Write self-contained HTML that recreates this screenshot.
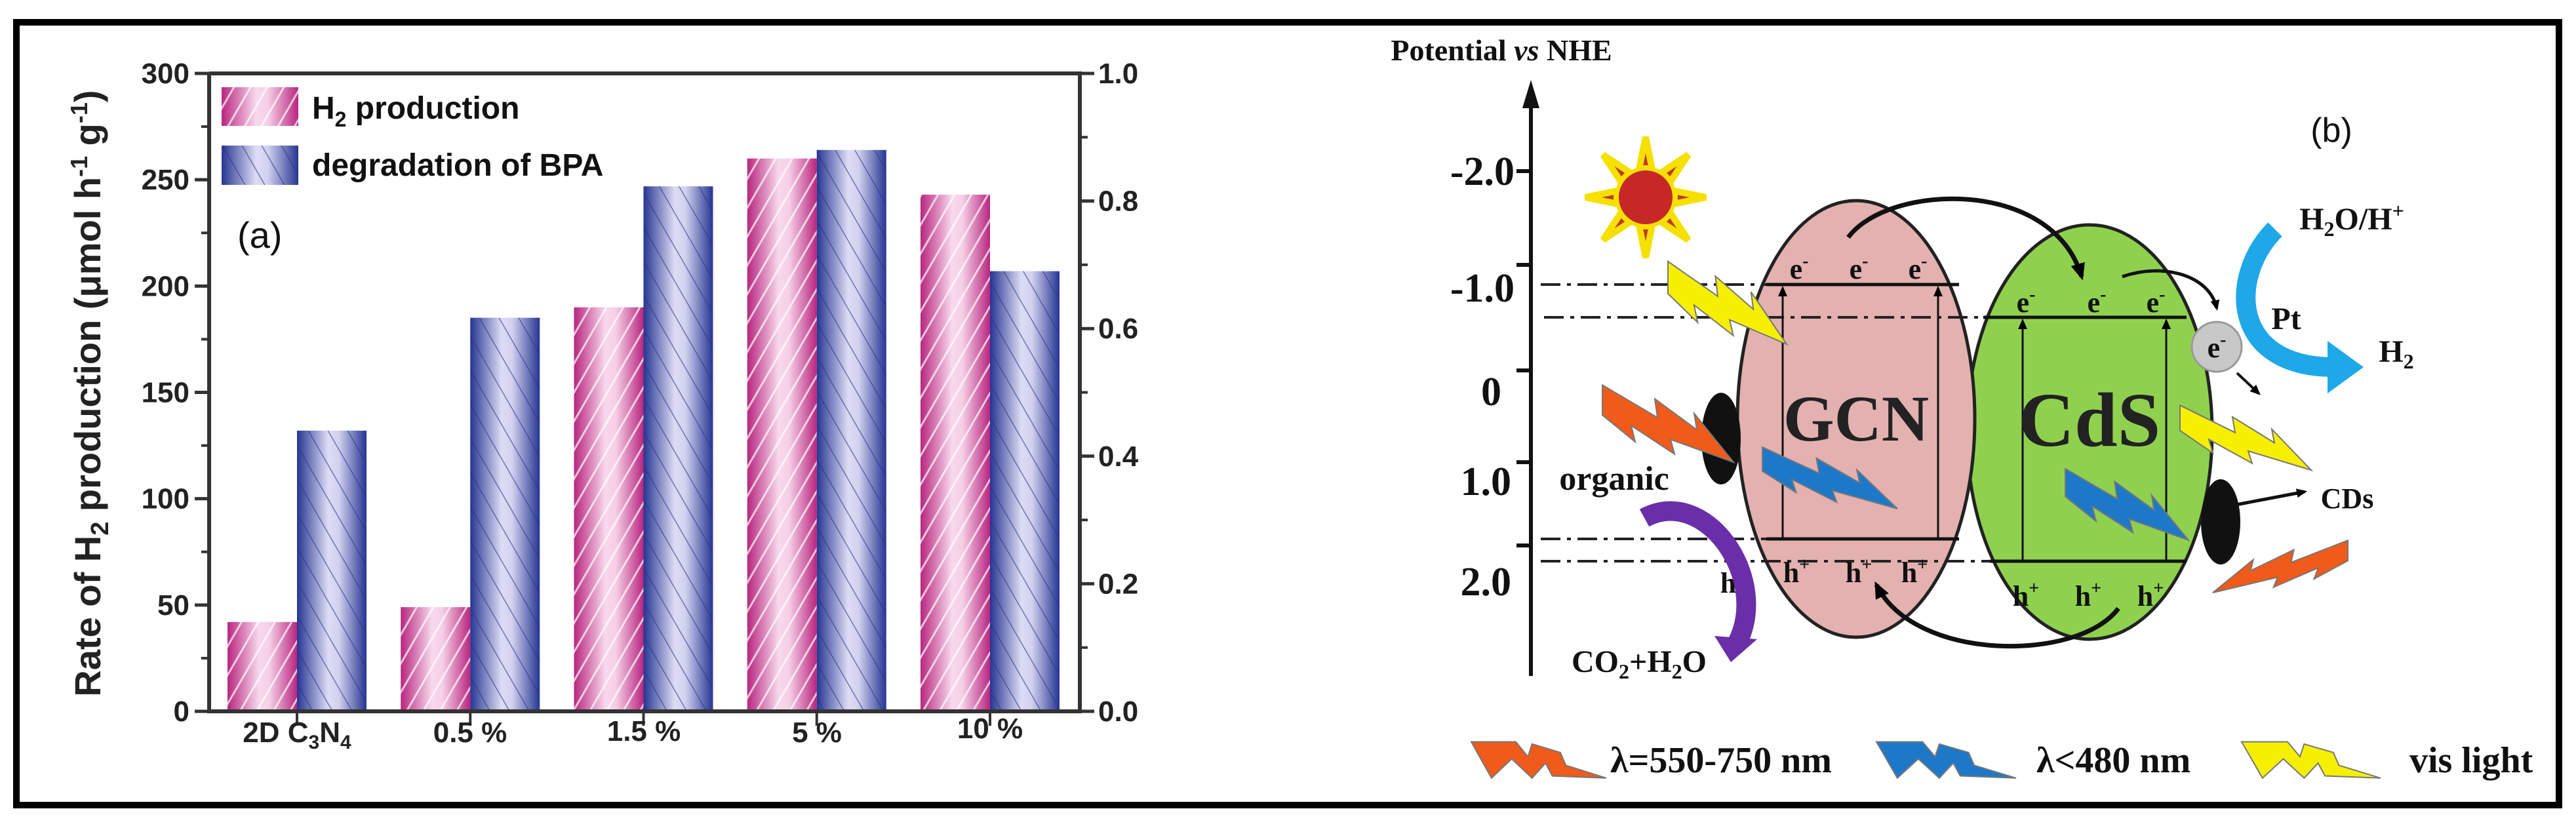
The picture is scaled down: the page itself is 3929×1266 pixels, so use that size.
<!DOCTYPE html>
<html><head><meta charset="utf-8"><style>
html,body{margin:0;padding:0;background:#fff}
svg{display:block}
.sans{font-family:"Liberation Sans",Arial,sans-serif;font-weight:bold}
.serif{font-family:"Liberation Serif","Times New Roman",serif;font-weight:bold}
</style></head><body>
<svg id="root" width="3929" height="1266" viewBox="0 0 3929 1266" xmlns="http://www.w3.org/2000/svg">
<defs>
<linearGradient id="gPink" x1="0" x2="1" y1="0" y2="0">
<stop offset="0" stop-color="#b8267f"/><stop offset="0.45" stop-color="#f8d8ec"/><stop offset="0.6" stop-color="#f6cfe6"/><stop offset="1" stop-color="#b8267f"/></linearGradient>
<linearGradient id="gBlue" x1="0" x2="1" y1="0" y2="0">
<stop offset="0" stop-color="#263592"/><stop offset="0.45" stop-color="#dcdcf4"/><stop offset="0.6" stop-color="#d2d2f0"/><stop offset="1" stop-color="#263592"/></linearGradient>
<pattern id="hPink" width="22" height="22" patternUnits="userSpaceOnUse" patternTransform="rotate(30)">
<rect width="22" height="22" fill="none"/><line x1="0" y1="0" x2="0" y2="22" stroke="#ffffff" stroke-width="6" opacity="0.7"/></pattern>
<pattern id="hBlue" width="26" height="26" patternUnits="userSpaceOnUse" patternTransform="rotate(-30)">
<line x1="0" y1="0" x2="0" y2="26" stroke="#2a2f80" stroke-width="3" opacity="0.6"/></pattern>
<marker id="ah" markerWidth="26" markerHeight="22" refX="20" refY="11" orient="auto" markerUnits="userSpaceOnUse"><path d="M0,0 L26,11 L0,22 z" fill="#000"/></marker>
<marker id="ahs" markerWidth="16" markerHeight="14" refX="12" refY="7" orient="auto" markerUnits="userSpaceOnUse"><path d="M0,0 L16,7 L0,14 z" fill="#000"/></marker>
</defs>
<rect x="25" y="34" width="3878" height="1194" fill="none" stroke="#000" stroke-width="10"/>
<g id="chart"></g>
<g id="diagram"></g>
</svg>
<script>
const categories = ["2D C3N4", "0.5 %", "1.5 %", "5 %", "10 %"];
const h2Values = [42, 49, 190, 260, 243];
const bpaValues = [0.44, 0.617, 0.823, 0.88, 0.69];
const leftTicks = [0, 50, 100, 150, 200, 250, 300];
const rightTicks = [0.0, 0.2, 0.4, 0.6, 0.8, 1.0];

const NS = "http://www.w3.org/2000/svg";
function mk(parent, tag, attrs, text) {
  const e = document.createElementNS(NS, tag);
  for (const k in attrs) e.setAttribute(k, attrs[k]);
  if (text !== undefined) e.textContent = text;
  parent.appendChild(e);
  return e;
}
const chart = document.getElementById("chart");
const X0 = 319, X1 = 1647, YT = 112, YB = 1085;
const yL = v => YB - v / 300 * (YB - YT);
const yR = v => YB - v / 1.0 * (YB - YT);
const xC = i => 453 + i * 264.25;
const BW = 106;

categories.forEach((c, i) => {
  const t = xC(i);
  let r = mk(chart, "rect", {x: t - BW, y: yL(h2Values[i]), width: BW, height: YB - yL(h2Values[i]), fill: "url(#gPink)"});
  
  
  let h = mk(chart, "rect", {x: t - BW, y: yL(h2Values[i]), width: BW, height: YB - yL(h2Values[i]), fill: "url(#hPink)"});
  
  
  let b = mk(chart, "rect", {x: t, y: yR(bpaValues[i]), width: BW, height: YB - yR(bpaValues[i]), fill: "url(#gBlue)"});
  
  
  let bh = mk(chart, "rect", {x: t, y: yR(bpaValues[i]), width: BW, height: YB - yR(bpaValues[i]), fill: "url(#hBlue)"});
  
  
  let tk = mk(chart, "line", {x1: t, y1: YB, x2: t, y2: YB + 22, stroke: "#333", "stroke-width": 4});
  
  
});
const ax = mk(chart, "path", {d: `M${X0},${YT} L${X0},${YB} L${X1},${YB} L${X1},${YT} L${X0},${YT}`, fill: "none", stroke: "#333", "stroke-width": 6});


leftTicks.forEach((v, i) => {
  let l = mk(chart, "line", {x1: X0 - 22, y1: yL(v), x2: X0, y2: yL(v), stroke: "#333", "stroke-width": 5});
  
  
  if (i < leftTicks.length - 1) {
    let m = mk(chart, "line", {x1: X0 - 12, y1: yL(v + 25), x2: X0, y2: yL(v + 25), stroke: "#333", "stroke-width": 4});
    
    
  }
  let t = mk(chart, "text", {x: X0 - 30, y: yL(v) + 15, "text-anchor": "end", "font-size": 44, class: "sans", fill: "#222"}, String(v));
  
  
});
rightTicks.forEach((v, i) => {
  let l = mk(chart, "line", {x1: X1, y1: yR(v), x2: X1 + 22, y2: yR(v), stroke: "#333", "stroke-width": 5});
  
  
  if (i < rightTicks.length - 1) {
    let m = mk(chart, "line", {x1: X1, y1: yR(v + 0.1), x2: X1 + 12, y2: yR(v + 0.1), stroke: "#333", "stroke-width": 4});
    
    
  }
  let t = mk(chart, "text", {x: X1 + 28, y: yR(v) + 15, "font-size": 44, class: "sans", fill: "#222"}, v.toFixed(1));
  
  
});
</script>
<script>
(function(){
const chart = document.getElementById("chart");
chart.insertAdjacentHTML("beforeend", `
<text x="153" y="600" transform="rotate(-90 153 600)" text-anchor="middle" font-size="56" class="sans" fill="#222">Rate of H<tspan font-size="38" dy="12">2</tspan><tspan dy="-12"> production (μmol h</tspan><tspan font-size="36" dy="-20">-1</tspan><tspan dy="20"> g</tspan><tspan font-size="36" dy="-20">-1</tspan><tspan dy="20">)</tspan></text>
<text x="453" y="1132" text-anchor="middle" font-size="44" class="sans" fill="#222">2D C<tspan font-size="30" dy="10">3</tspan><tspan dy="-10">N</tspan><tspan font-size="30" dy="10">4</tspan></text>
<text x="717" y="1132" text-anchor="middle" font-size="44" class="sans" fill="#222">0.5 %</text>
<text x="982" y="1130" text-anchor="middle" font-size="44" class="sans" fill="#222">1.5 %</text>
<text x="1246" y="1132" text-anchor="middle" font-size="44" class="sans" fill="#222">5 %</text>
<text x="1510" y="1126" text-anchor="middle" font-size="44" class="sans" fill="#222">10 %</text>
<g>
<rect x="338" y="133" width="117" height="59" fill="url(#gPink)"/>
<rect x="338" y="133" width="117" height="59" fill="url(#hPink)"/>
<text x="476" y="181" font-size="48" class="sans" fill="#111">H<tspan font-size="32" dy="12">2</tspan><tspan dy="-12"> production</tspan></text>
<rect x="338" y="222" width="117" height="60" fill="url(#gBlue)"/>
<rect x="338" y="222" width="117" height="60" fill="url(#hBlue)"/>
<text x="476" y="268" font-size="48" class="sans" fill="#111">degradation of BPA</text>
</g>
<text x="362" y="378" font-family="Liberation Sans, sans-serif" font-size="56" fill="#111">(a)</text>
`);
})();
</script>
<script>
(function(){
const d = document.getElementById("diagram");
function bolt(x, y, w, h, flip, color, name) {
  const pts = [[0,0.05],[0.42,0.45],[0.4,0.22],[0.72,0.6],[0.7,0.4],[1,1],[0.52,0.72],[0.55,0.9],[0.22,0.55],[0.25,0.75],[0,0.42]];
  const p = pts.map(q => ((flip ? 1 - q[0] : q[0])*w).toFixed(1)+","+(q[1]*h).toFixed(1)).join(" ");
  return `<polygon points="${p}" transform="translate(${x},${y})" fill="${color}" stroke="#777" stroke-width="2"/>`;
}
function lbolt(x, y, w, h, color, name) {
  const pts = [[0,0.1],[0.33,0.1],[0.42,0.45],[0.45,0.15],[0.66,0.35],[0.7,0.65],[1,0.95],[0.6,0.9],[0.55,0.6],[0.45,0.95],[0.3,0.5],[0.15,0.95]];
  const p = pts.map(q => (q[0]*w).toFixed(1)+","+(q[1]*h).toFixed(1)).join(" ");
  return `<polygon points="${p}" transform="translate(${x},${y})" fill="${color}" stroke="#777" stroke-width="2"/>`;
}
let sunRays = "";
for (let i = 0; i < 8; i++) {
  const a = i * Math.PI / 4, a1 = a - 0.22, a2 = a + 0.22;
  sunRays += `<polygon points="${2510+45*Math.cos(a1)},${301+45*Math.sin(a1)} ${2510+92*Math.cos(a)},${301+92*Math.sin(a)} ${2510+45*Math.cos(a2)},${301+45*Math.sin(a2)}" fill="#c0392b" stroke="#f6e000" stroke-width="10"/>`;
}
d.innerHTML = `
<text x="2290" y="92" text-anchor="middle" font-size="46" class="serif" fill="#111">Potential <tspan font-style="italic">vs</tspan> NHE</text>
<line x1="2335" y1="1031" x2="2335" y2="150" stroke="#111" stroke-width="6"/>
<polygon points="2335,122 2322,165 2348,165" fill="#111"/>
<g class="serif" font-size="62" fill="#111" text-anchor="end">
<line x1="2313" y1="261" x2="2335" y2="261" stroke="#111" stroke-width="6"/><text x="2310" y="282">-2.0</text>
<line x1="2313" y1="404" x2="2335" y2="404" stroke="#111" stroke-width="6"/><text x="2310" y="460">-1.0</text>
<line x1="2313" y1="565" x2="2335" y2="565" stroke="#111" stroke-width="6"/><text x="2290" y="618">0</text>
<line x1="2313" y1="705" x2="2335" y2="705" stroke="#111" stroke-width="6"/><text x="2305" y="755">1.0</text>
<line x1="2313" y1="832" x2="2335" y2="832" stroke="#111" stroke-width="6"/><text x="2305" y="908">2.0</text>
</g>
<text x="3556" y="216" text-anchor="middle" font-family="Liberation Sans, sans-serif" font-size="52" fill="#111">(b)</text>
<g>${sunRays}<circle cx="2510" cy="301" r="44" fill="#c62828" stroke="#f6e000" stroke-width="6"/></g>
<ellipse cx="3187" cy="659" rx="187" ry="316" fill="#8fd14f" stroke="#222" stroke-width="5"/>
<ellipse cx="2831" cy="639" rx="181" ry="333" fill="#e2b1b0" stroke="#222" stroke-width="5"/>
<g stroke="#222" stroke-width="4" stroke-dasharray="30,10,6,10" fill="none">
<line x1="2350" y1="434" x2="2694" y2="434"/><line x1="2355" y1="484" x2="3025" y2="484"/>
<line x1="2350" y1="822" x2="2694" y2="822"/><line x1="2350" y1="856" x2="3035" y2="856"/>
</g>
<g stroke="#111" stroke-width="5">
<line x1="2694" y1="434" x2="2988" y2="434"/><line x1="3025" y1="484" x2="3335" y2="484"/>
<line x1="2694" y1="822" x2="2988" y2="822"/><line x1="3035" y1="856" x2="3335" y2="856"/>
</g>
<g stroke="#111" stroke-width="3" marker-end="url(#ahs)">
<line x1="2719" y1="822" x2="2719" y2="440"/><line x1="2956" y1="822" x2="2956" y2="440"/>
<line x1="3085" y1="856" x2="3085" y2="490"/><line x1="3304" y1="856" x2="3304" y2="490"/>
</g>
<g class="serif" font-size="44" fill="#111" text-anchor="middle">
<text x="2744" y="425">e<tspan font-size="28" dy="-18">-</tspan></text><text x="2835" y="425">e<tspan font-size="28" dy="-18">-</tspan></text><text x="2925" y="425">e<tspan font-size="28" dy="-18">-</tspan></text>
<text x="3090" y="476">e<tspan font-size="28" dy="-18">-</tspan></text><text x="3198" y="476">e<tspan font-size="28" dy="-18">-</tspan></text><text x="3288" y="476">e<tspan font-size="28" dy="-18">-</tspan></text>
</g>
<g class="serif" font-size="44" fill="#111" text-anchor="middle">
<text x="2740" y="888">h<tspan font-size="28" dy="-18">+</tspan></text><text x="2835" y="888">h<tspan font-size="28" dy="-18">+</tspan></text><text x="2920" y="888">h<tspan font-size="28" dy="-18">+</tspan></text>
<text x="3090" y="924">h<tspan font-size="28" dy="-18">+</tspan></text><text x="3185" y="924">h<tspan font-size="28" dy="-18">+</tspan></text><text x="3280" y="924">h<tspan font-size="28" dy="-18">+</tspan></text>
<text x="2644" y="904">h<tspan font-size="28" dy="-18">+</tspan></text>
</g>
<text x="2831" y="672" text-anchor="middle" class="serif" font-size="100" fill="#222">GCN</text>
<text x="3187" y="680" text-anchor="middle" class="serif" font-size="118" fill="#222">CdS</text>
<path d="M2819,362 C2880,280 3130,270 3175,422" fill="none" stroke="#111" stroke-width="7" marker-end="url(#ah)"/>
<path d="M3231,928 C3170,1010 2920,1010 2862,892" fill="none" stroke="#111" stroke-width="7" marker-end="url(#ah)"/>
<path d="M3237,422 C3300,400 3370,420 3381,470" fill="none" stroke="#111" stroke-width="5" marker-end="url(#ahs)"/>
<ellipse cx="2625" cy="669" rx="30" ry="70" fill="#111"/>
<ellipse cx="3387" cy="796" rx="30" ry="65" fill="#111"/>
<circle cx="3381" cy="529" r="38" fill="#c8c8c8" stroke="#999" stroke-width="3"/>
<text x="3381" y="545" text-anchor="middle" class="serif" font-size="44" fill="#111">e<tspan font-size="28" dy="-18">-</tspan></text>
<path d="M3470,350 C3400,420 3400,560 3560,560" fill="none" stroke="#1ea8e8" stroke-width="30"/>
<polygon points="3550,520 3605,560 3550,600" fill="#1ea8e8"/>
<text x="3587" y="350" text-anchor="middle" class="serif" font-size="48" fill="#111">H<tspan font-size="32" dy="10">2</tspan><tspan dy="-10">O/H</tspan><tspan font-size="32" dy="-18">+</tspan></text>
<text x="3487" y="502" text-anchor="middle" class="serif" font-size="48" fill="#111">Pt</text>
<text x="3655" y="552" text-anchor="middle" class="serif" font-size="48" fill="#111">H<tspan font-size="32" dy="10">2</tspan></text>
<line x1="3412" y1="569" x2="3445" y2="600" stroke="#111" stroke-width="4" marker-end="url(#ahs)"/>
<line x1="3410" y1="770" x2="3515" y2="750" stroke="#111" stroke-width="5" marker-end="url(#ahs)"/>
<text x="3580" y="775" text-anchor="middle" class="serif" font-size="44" fill="#111">CDs</text>
<text x="2462" y="747" text-anchor="middle" class="serif" font-size="52" fill="#111">organic</text>
<path d="M2508,790 C2600,740 2700,880 2650,980" fill="none" stroke="#6a2fa8" stroke-width="30"/>
<polygon points="2615,970 2680,975 2640,1010" fill="#6a2fa8"/>
<text x="2500" y="1025" text-anchor="middle" class="serif" font-size="48" fill="#111">CO<tspan font-size="32" dy="10">2</tspan><tspan dy="-10">+H</tspan><tspan font-size="32" dy="10">2</tspan><tspan dy="-10">O</tspan></text>
${bolt(2544,392,181,133,false,"#f6f000","bolt-yellow-1")}
${bolt(2444,581,200,124,false,"#f05a1a","bolt-orange-1")}
${bolt(2688,677,206,99,false,"#1e78c8","bolt-blue-1")}
${bolt(3150,709,188,115,false,"#1e78c8","bolt-blue-2")}
${bolt(3325,613,200,104,false,"#f6f000","bolt-yellow-2")}
${bolt(3375,820,206,84,true,"#f05a1a","bolt-orange-2")}
<g>
${lbolt(2244,1125,206,65,"#f05a1a","legend-bolt-orange")}
<text x="2456" y="1178" class="serif" font-size="56" fill="#111">λ=550-750 nm</text>
${lbolt(2862,1125,213,65,"#1e78c8","legend-bolt-blue")}
<text x="3106" y="1178" class="serif" font-size="56" fill="#111">λ&lt;480 nm</text>
${lbolt(3419,1125,212,65,"#f6f000","legend-bolt-yellow")}
<text x="3675" y="1178" class="serif" font-size="56" fill="#111">vis light</text>
</g>
`;
})();
</script>
</body></html>
